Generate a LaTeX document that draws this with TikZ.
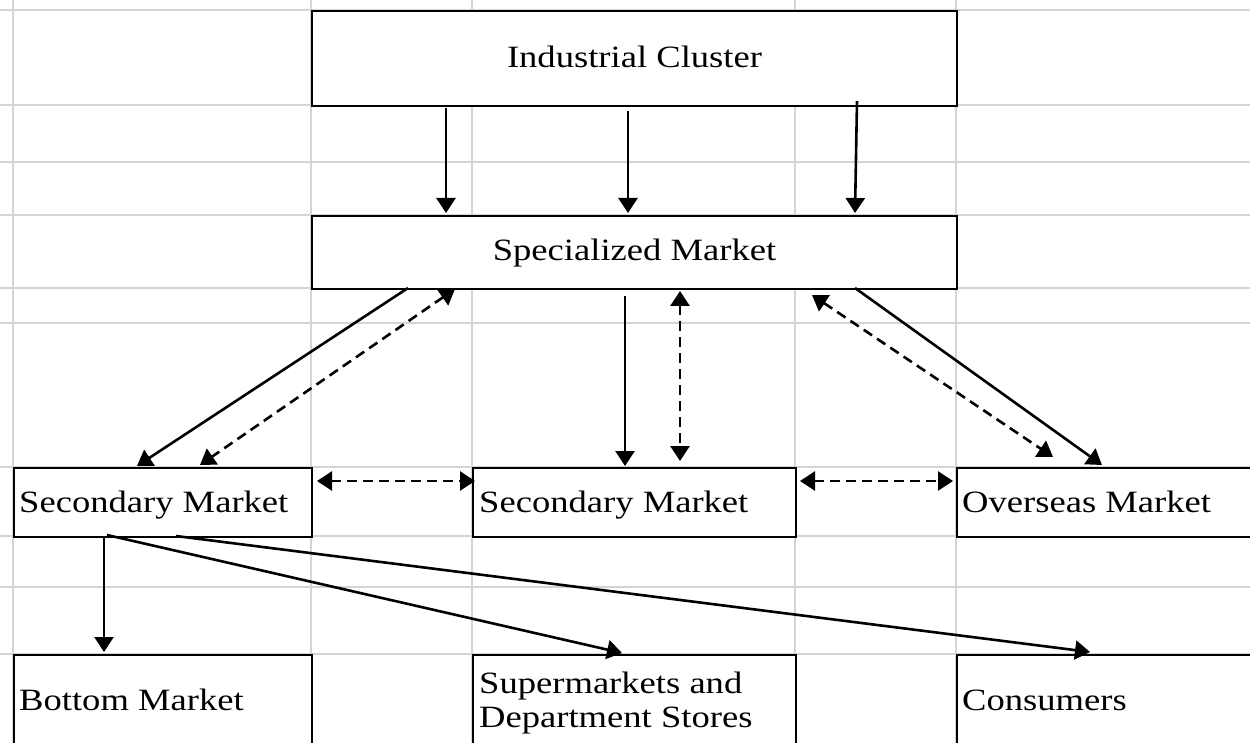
\documentclass[tikz,border=0pt]{standalone}
\usepackage{fontspec}
\setmainfont{Liberation Serif}[FakeStretch=1.18]
\usetikzlibrary{arrows.meta}
\definecolor{gridgray}{HTML}{D4D4D4}
\tikzset{
  gridline/.style={draw=gridgray, line width=1.5pt},
  box/.style={draw=black, fill=white, line width=2.3pt, anchor=north west, inner sep=0pt},
  lbl/.style={font=\fontsize{31}{34}\selectfont, inner sep=0pt},
  flow/.style={line width=2.6pt, -{Triangle[length=15pt,width=19pt]}},
  link/.style={line width=2.6pt, dash pattern=on 10pt off 6pt,
    {Triangle[length=15pt,width=19pt]}-{Triangle[length=15pt,width=19pt]}},
}
\begin{document}
\begin{tikzpicture}[x=1pt,y=-1pt]
\useasboundingbox (0,0) rectangle (1250,743);
\clip (0,0) rectangle (1250,743);
\fill[white] (0,0) rectangle (1250,743);
% spreadsheet grid
\foreach \yy in {10,105,162,215,288,323,467,536,587,654}
  \draw[gridline] (0,\yy) -- (1250,\yy);
\foreach \xx in {13,311,472,795,956}
  \draw[gridline] (\xx,0) -- (\xx,743);
% boxes
\node[box, minimum width=645pt, minimum height=95pt] (ic) at (311,10) {};
\node[box, minimum width=645pt, minimum height=73pt] (sm) at (311,215) {};
\node[box, minimum width=298pt, minimum height=69pt] (s1) at (13,467) {};
\node[box, minimum width=323pt, minimum height=69pt] (s2) at (472,467) {};
\node[box, minimum width=306pt, minimum height=69pt] (om) at (956,467) {};
\node[box, minimum width=298pt, minimum height=92pt] (bm) at (13,654) {};
\node[box, minimum width=323pt, minimum height=92pt] (sd) at (472,654) {};
\node[box, minimum width=306pt, minimum height=92pt] (co) at (956,654) {};
% labels
\node[lbl, anchor=base] (tic) at (634.5,68) {Industrial Cluster};
\node[lbl, anchor=base] (tsm) at (634.5,261) {Specialized Market};
\node[lbl, anchor=base west] (ts1) at (19,512) {Secondary Market};
\node[lbl, anchor=base west] (ts2) at (479,512) {Secondary Market};
\node[lbl, anchor=base west] (tom) at (962,512) {Overseas Market};
\node[lbl, anchor=base west] (tbm) at (19,710) {Bottom Market};
\node[lbl, anchor=base west] (tsd1) at (479,693) {Supermarkets and};
\node[lbl, anchor=base west] (tsd2) at (479,727) {Department Stores};
\node[lbl, anchor=base west] (tco) at (962,710) {Consumers};
% connector end points
\coordinate (a1s) at (446,108); \coordinate (a1e) at (446,213);
\coordinate (a2s) at (628,111); \coordinate (a2e) at (628,213);
\coordinate (a3s) at (857,101); \coordinate (a3e) at (855,213);
\coordinate (b1s) at (408,288); \coordinate (b1e) at (137,466);
\coordinate (b2s) at (455,289); \coordinate (b2e) at (200,465);
\coordinate (b3s) at (625,296); \coordinate (b3e) at (625,466);
\coordinate (b4s) at (680,291); \coordinate (b4e) at (680,461);
\coordinate (b5s) at (812,295); \coordinate (b5e) at (1053,457);
\coordinate (b6s) at (855,288); \coordinate (b6e) at (1102,465);
\coordinate (h1s) at (317,481); \coordinate (h1e) at (475,481);
\coordinate (h2s) at (800,481); \coordinate (h2e) at (953,481);
\coordinate (c1s) at (104,536); \coordinate (c1e) at (104,652);
\coordinate (c2s) at (107,535); \coordinate (c2e) at (622,653);
\coordinate (c3s) at (176,536); \coordinate (c3e) at (1090,652);
% connectors
\draw[flow] (a1s) -- (a1e);
\draw[flow] (a2s) -- (a2e);
\draw[flow] (a3s) -- (a3e);
\draw[flow] (b1s) -- (b1e);
\draw[link] (b2s) -- (b2e);
\draw[flow] (b3s) -- (b3e);
\draw[link] (b4s) -- (b4e);
\draw[link] (b5s) -- (b5e);
\draw[flow] (b6s) -- (b6e);
\draw[link] (h1s) -- (h1e);
\draw[link] (h2s) -- (h2e);
\draw[flow] (c1s) -- (c1e);
\draw[flow] (c2s) -- (c2e);
\draw[flow] (c3s) -- (c3e);
\end{tikzpicture}
\end{document}
